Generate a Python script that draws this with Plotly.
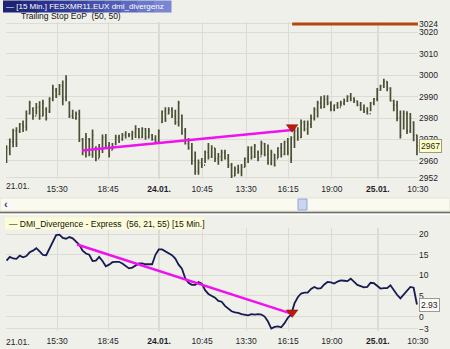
import plotly.graph_objects as go

# ---------------- data ----------------
bar_high = [2967.3, 2970.4, 2975.0, 2975.7, 2977.7, 2978.8, 2983.5, 2988.1, 2985.0, 2987.0,
            2987.8, 2988.6, 2985.0, 2989.7, 2995.6, 2994.0, 2995.9, 2997.5, 3000.0, 2987.8,
            2983.9, 2983.1, 2983.9, 2970.7, 2973.0, 2970.7, 2974.6, 2966.8, 2967.9, 2972.3,
            2972.5, 2968.8, 2968.3, 2972.2, 2972.2, 2973.0, 2973.8, 2973.0, 2974.1, 2976.6,
            2975.4, 2975.7, 2975.4, 2975.4, 2972.5, 2971.9, 2974.6, 2983.5, 2985.0, 2985.0,
            2985.0, 2983.9, 2988.1, 2981.6, 2975.4, 2970.7, 2968.3, 2964.4, 2960.6, 2961.3,
            2964.8, 2968.3, 2967.3, 2966.0, 2963.7, 2965.2, 2965.2, 2963.2, 2959.0, 2957.4,
            2958.2, 2958.5, 2961.6, 2966.8, 2966.8, 2967.9, 2964.8, 2969.4, 2968.3, 2967.6,
            2965.2, 2963.2, 2966.3, 2968.3, 2969.4, 2970.7, 2971.5, 2975.4, 2975.7, 2979.3,
            2978.8, 2978.8, 2981.6, 2985.0, 2988.1, 2990.2, 2990.6, 2990.6, 2987.8, 2986.3,
            2987.5, 2988.1, 2989.1, 2990.6, 2991.7, 2989.7, 2988.1, 2987.5, 2986.3, 2985.0,
            2987.5, 2989.4, 2994.0, 2995.6, 2998.4, 2997.2, 2994.4, 2988.6, 2988.1, 2983.5,
            2983.5, 2983.2, 2982.4, 2978.5, 2972.2]
bar_low = [2959.0, 2962.6, 2966.3, 2966.5, 2973.0, 2973.5, 2974.1, 2981.6, 2979.2, 2981.6,
           2979.2, 2980.8, 2978.8, 2982.4, 2987.8, 2989.4, 2990.6, 2986.0, 2987.8, 2980.0,
           2979.7, 2979.2, 2968.8, 2962.6, 2961.6, 2962.1, 2961.4, 2959.8, 2961.4, 2963.7,
           2966.0, 2961.6, 2965.2, 2967.3, 2968.3, 2969.4, 2970.4, 2971.0, 2969.9, 2970.7,
           2970.4, 2970.7, 2969.9, 2970.4, 2969.4, 2967.9, 2968.3, 2977.7, 2978.2, 2981.6,
           2980.0, 2976.9, 2976.1, 2972.2, 2967.6, 2965.2, 2958.2, 2953.5, 2953.5, 2956.7,
           2959.0, 2960.6, 2961.3, 2959.5, 2958.2, 2959.8, 2960.6, 2956.7, 2952.0, 2952.8,
           2953.9, 2952.8, 2957.0, 2959.0, 2960.6, 2961.3, 2959.8, 2962.6, 2962.1, 2958.2,
           2957.9, 2957.4, 2961.3, 2961.6, 2962.6, 2962.6, 2959.0, 2966.0, 2969.4, 2970.7,
           2973.8, 2972.2, 2975.4, 2978.8, 2980.3, 2984.4, 2984.7, 2986.0, 2983.2, 2983.2,
           2984.4, 2985.5, 2986.0, 2987.5, 2987.8, 2987.0, 2985.5, 2983.4, 2982.4, 2981.6,
           2983.2, 2986.0, 2987.8, 2992.8, 2994.0, 2992.5, 2987.8, 2983.2, 2978.5, 2970.4,
           2974.6, 2972.5, 2973.0, 2969.1, 2962.6]
bar_open = [2960, 2966, 2969, 2974, 2974, 2977, 2976, 2982, 2984, 2981,
            2985, 2981, 2984, 2983, 2989, 2993, 2991, 2995, 2990, 2987,
            2981, 2980, 2982, 2970, 2964, 2970, 2963, 2966, 2961, 2966,
            2971, 2967, 2965, 2968, 2971, 2970, 2972, 2972, 2972, 2973,
            2975, 2971, 2975, 2971, 2972, 2970, 2969, 2978, 2983, 2982,
            2984, 2981, 2978, 2981, 2974, 2968, 2966, 2960, 2955, 2959,
            2958, 2964, 2962, 2966, 2961, 2962, 2964, 2961, 2958, 2953,
            2956, 2955, 2957, 2961, 2966, 2962, 2964, 2962, 2968, 2963,
            2959, 2963, 2961, 2966, 2963, 2969, 2961, 2971, 2974, 2971,
            2978, 2975, 2977, 2980, 2984, 2987, 2985, 2989, 2987, 2984,
            2986, 2985, 2987, 2988, 2990, 2989, 2988, 2986, 2984, 2983,
            2982, 2987, 2989, 2993, 2995, 2997, 2994, 2988, 2986, 2980,
            2975, 2982, 2974, 2978, 2972]
bar_close = [2966, 2969, 2974, 2968, 2977, 2976, 2982, 2987, 2981, 2985,
             2981, 2987, 2980, 2989, 2994, 2990, 2995, 2989, 2998, 2981,
             2980, 2982, 2970, 2964, 2971, 2963, 2972, 2961, 2966, 2971,
             2967, 2963, 2967, 2971, 2969, 2972, 2973, 2972, 2973, 2975,
             2971, 2975, 2971, 2974, 2970, 2969, 2974, 2983, 2979, 2984,
             2981, 2978, 2987, 2973, 2968, 2966, 2960, 2955, 2959, 2958,
             2964, 2962, 2966, 2961, 2962, 2964, 2961, 2958, 2953, 2956,
             2955, 2957, 2961, 2966, 2962, 2967, 2961, 2968, 2963, 2959,
             2964, 2958, 2966, 2963, 2969, 2964, 2971, 2974, 2971, 2978,
             2975, 2977, 2980, 2984, 2987, 2985, 2989, 2987, 2984, 2986,
             2985, 2987, 2988, 2990, 2989, 2988, 2986, 2984, 2983, 2982,
             2987, 2989, 2993, 2995, 2997, 2994, 2988, 2986, 2980, 2972,
             2982, 2974, 2980, 2972, 2967]
dmi_values = [13.6, 14.5, 14.1, 14.0, 14.8, 14.4, 14.7, 15.6, 16.0, 16.6,
              15.8, 15.0, 14.9, 16.5, 18.3, 19.8, 19.9, 19.1, 18.9, 19.3,
              19.0, 18.2, 17.4, 16.0, 15.3, 15.0, 13.5, 13.6, 14.5, 13.5,
              12.2, 12.6, 13.2, 13.3, 13.3, 12.9, 12.3, 11.7, 11.9, 12.4,
              12.9, 12.9, 12.7, 12.7, 12.7, 15.0, 16.3, 16.3, 15.8, 15.2,
              14.9, 14.1, 12.6, 11.6, 9.3, 8.2, 7.7, 7.7, 8.4, 8.0,
              6.4, 5.5, 5.0, 4.6, 3.8, 3.6, 2.6, 2.0, 1.3, 1.0,
              0.9, 0.6, 0.5, 0.3, 0.6, 0.5, 0.6, 0.5, 0.0, -1.2,
              -2.9, -2.5, -2.4, -2.6, -1.6, -0.3, 0.5, 3.2, 4.7, 5.6,
              5.8, 5.8, 6.7, 7.2, 6.8, 6.9, 7.8, 8.4, 8.3, 8.0,
              8.5, 8.8, 8.7, 8.6, 9.2, 8.4, 7.7, 7.4, 7.1, 7.2,
              8.2, 8.1, 7.5, 6.8, 6.9, 6.9, 7.6, 6.4, 5.3, 4.4,
              5.4, 6.2, 7.2, 7.0, 2.93]
bar_index = list(range(len(bar_high)))

stop_x = [86.3, 124.3]
stop_y = [3024, 3024]
price_div_x = [22.8, 86.3]
price_div_y = [2964.8, 2974.4]
dmi_div_x = [21.3, 86.3]
dmi_div_y = [17.5, 0.66]
signal_x = [86.3]
signal_price = [2975.7]
signal_dmi = [1.0]

x_tick_pos = [15.3, 30.7, 46.1, 59.1, 72.4, 85.1, 98.3, 112.2, 124.3]
x_tick_text = ["15:30", "18:45", "<b>24.01.</b>", "10:45", "13:30", "16:15", "19:00",
               "<b>25.01.</b>", "10:30"]
day_break_pos = [46.1, 112.2]
price_ticks = [2952, 2960, 2970, 2980, 2990, 3000, 3010, 3020, 3024]
dmi_ticks = [-3, 0, 5, 10, 15, 20]
last_price_label = "2967"
last_dmi_label = "2.93"

# ---------------- layout helpers ----------------
W, H = 450, 349
ML, MR, MT, MB = 6, 32, 22, 18
PW, PH = W - ML - MR, H - MT - MB
FONT = "Liberation Sans"
BG = "#f0f0eb"
GRID = "#dcdcd5"


def pxx(px):
    return (px - ML) / PW


def pxy(py):
    return 1 - (py - MT) / PH


fig = go.Figure()

fig.add_trace(go.Ohlc(
    x=bar_index, open=bar_open, high=bar_high, low=bar_low, close=bar_close,
    increasing=dict(line=dict(color="#4b5034", width=1.7)),
    decreasing=dict(line=dict(color="#4b5034", width=1.7)),
    tickwidth=0.3, xaxis="x", yaxis="y", hoverinfo="skip", showlegend=False))

fig.add_trace(go.Scatter(x=stop_x, y=stop_y, mode="lines",
                         line=dict(color="#b4460f", width=3),
                         xaxis="x", yaxis="y", showlegend=False, hoverinfo="skip"))
fig.add_trace(go.Scatter(x=price_div_x, y=price_div_y, mode="lines",
                         line=dict(color="#ee12ee", width=2.5),
                         xaxis="x", yaxis="y", showlegend=False, hoverinfo="skip"))
fig.add_trace(go.Scatter(x=signal_x, y=signal_price, mode="markers",
                         marker=dict(symbol="triangle-down", size=10, color="#c01a08",
                                     line=dict(color="#7a0e04", width=0.5)),
                         xaxis="x", yaxis="y", showlegend=False, hoverinfo="skip"))

fig.add_trace(go.Scatter(x=bar_index, y=dmi_values, mode="lines",
                         line=dict(color="#161b52", width=1.8),
                         xaxis="x2", yaxis="y2", showlegend=False, hoverinfo="skip"))
fig.add_trace(go.Scatter(x=dmi_div_x, y=dmi_div_y, mode="lines",
                         line=dict(color="#ee12ee", width=2.5),
                         xaxis="x2", yaxis="y2", showlegend=False, hoverinfo="skip"))
fig.add_trace(go.Scatter(x=signal_x, y=signal_dmi, mode="markers",
                         marker=dict(symbol="triangle-down", size=10, color="#c01a08",
                                     line=dict(color="#7a0e04", width=0.5)),
                         xaxis="x2", yaxis="y2", showlegend=False, hoverinfo="skip"))

axis_font = dict(family=FONT, size=8.5, color="#1e1e28")
xcommon = dict(range=[-0.15, 124.32], tickmode="array", tickvals=x_tick_pos,
               ticktext=x_tick_text, showgrid=True, gridcolor=GRID, gridwidth=1,
               zeroline=False, showline=False, ticks="", tickfont=axis_font,
               ticklabelstandoff=3, automargin=False, fixedrange=True)
ycommon = dict(side="right", tickmode="array", showgrid=True, gridcolor=GRID,
               zeroline=False, ticks="", tickfont=axis_font, automargin=False,
               fixedrange=True)

shapes = []
# darker day-break lines
for d in day_break_pos:
    for ya in ("y", "y2"):
        shapes.append(dict(type="line", xref="x" if ya == "y" else "x2",
                           yref=ya + " domain", x0=d, x1=d, y0=0, y1=1,
                           line=dict(color="#b9b9b0", width=1), layer="below"))
# header title bar (gradient made of slices)
grad = ["#1c2474", "#222b80", "#29338b", "#313c96", "#3a46a1", "#4551ab",
        "#515db5", "#5e6abf", "#6c78c8", "#7b86d0"]
x0, x1 = 3, 171
step = (x1 - x0) / len(grad)
for k, c in enumerate(grad):
    shapes.append(dict(type="rect", xref="paper", yref="paper",
                       x0=pxx(x0 + k * step), x1=pxx(x0 + (k + 1) * step + 0.5),
                       y0=pxy(12.5), y1=pxy(0.5), fillcolor=c, line=dict(width=0)))
# scrollbar strip
shapes.append(dict(type="rect", xref="paper", yref="paper", x0=pxx(0), x1=pxx(450),
                   y0=pxy(211), y1=pxy(198), fillcolor="#fbfaf1",
                   line=dict(color="#e4e2d2", width=1)))
shapes.append(dict(type="rect", xref="paper", yref="paper", x0=pxx(298), x1=pxx(307),
                   y0=pxy(210), y1=pxy(199), fillcolor="#c9d5f2",
                   line=dict(color="#94a4d4", width=1)))
# separator
shapes.append(dict(type="line", xref="paper", yref="paper", x0=pxx(0), x1=pxx(450),
                   y0=pxy(212.5), y1=pxy(212.5), line=dict(color="#6e6e68", width=1.5)))
shapes.append(dict(type="line", xref="paper", yref="paper", x0=pxx(0), x1=pxx(450),
                   y0=pxy(214.5), y1=pxy(214.5), line=dict(color="#ffffff", width=1)))
# lower legend box
shapes.append(dict(type="rect", xref="paper", yref="paper", x0=pxx(5), x1=pxx(204),
                   y0=pxy(229.5), y1=pxy(217.5), fillcolor="#fdfcd8",
                   line=dict(width=0)))

annotations = [
    dict(text="— [15 Min.] FESXMR11.EUX dmi_divergenz", xref="paper", yref="paper",
         x=pxx(4), y=pxy(6.5), xanchor="left", yanchor="middle", showarrow=False,
         font=dict(family=FONT, size=8, color="#ffffff")),
    dict(text="Trailing Stop EoP  (50, 50)", xref="paper", yref="paper",
         x=pxx(19), y=pxy(16.5), xanchor="left", yanchor="middle", showarrow=False,
         font=dict(family=FONT, size=8.5, color="#111111")),
    dict(text="— DMI_Divergence - Express  (56, 21, 55) [15 Min.]", xref="paper",
         yref="paper", x=pxx(7), y=pxy(223.5), xanchor="left", yanchor="middle",
         showarrow=False, font=dict(family=FONT, size=8.5, color="#111111")),
    dict(text="21.01.", xref="paper", yref="paper", x=pxx(4), y=pxy(186.5),
         xanchor="left", yanchor="middle", showarrow=False, font=axis_font),
    dict(text="21.01.", xref="paper", yref="paper", x=pxx(4), y=pxy(341.5),
         xanchor="left", yanchor="middle", showarrow=False, font=axis_font),
    dict(text="<b>‹</b>", xref="paper", yref="paper", x=pxx(2), y=pxy(204),
         xanchor="left", yanchor="middle", showarrow=False,
         font=dict(family=FONT, size=11, color="#2a3590")),
    dict(text=last_price_label, xref="x domain", yref="y", x=1, y=float(last_price_label),
         xanchor="left", yanchor="middle", xshift=1, showarrow=False,
         bgcolor="#ffffc4", bordercolor="#9a9a90", borderwidth=1, borderpad=1,
         font=dict(family=FONT, size=8.5, color="#1e1e28")),
    dict(text=last_dmi_label, xref="x2 domain", yref="y2", x=1, y=float(last_dmi_label),
         xanchor="left", yanchor="middle", xshift=1, showarrow=False,
         bgcolor="#fafaf6", bordercolor="#9a9a90", borderwidth=1, borderpad=1,
         font=dict(family=FONT, size=8.5, color="#1e1e28")),
]

fig.update_layout(
    width=W, height=H, margin=dict(l=ML, r=MR, t=MT, b=MB, pad=0, autoexpand=False),
    paper_bgcolor=BG, plot_bgcolor=BG, showlegend=False,
    xaxis=dict(anchor="y", domain=[0, 1], rangeslider=dict(visible=False), **xcommon),
    xaxis2=dict(anchor="y2", domain=[0, 1], matches="x", **xcommon),
    yaxis=dict(domain=[pxy(179), 1], range=[2951.5, 3024.9], tickvals=price_ticks,
               **ycommon),
    yaxis2=dict(domain=[0, pxy(228)], range=[-3.5, 21.5], tickvals=dmi_ticks,
                **ycommon),
    shapes=shapes, annotations=annotations,
)

fig.write_html("out.html", config=dict(displayModeBar=False))
